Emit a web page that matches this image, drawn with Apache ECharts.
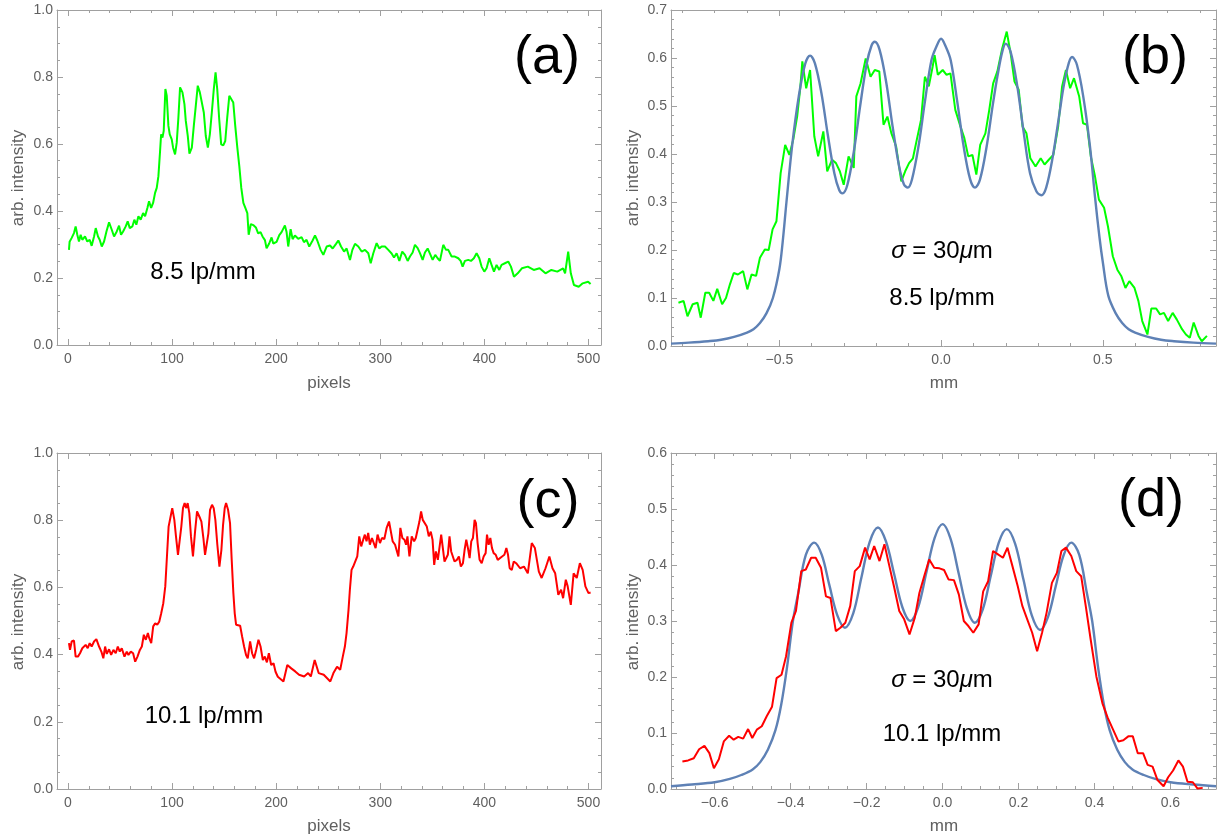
<!DOCTYPE html>
<html>
<head>
<meta charset="utf-8">
<script src="https://cdn.jsdelivr.net/npm/echarts@6/dist/echarts.min.js"></script>
<style>
html,body{margin:0;padding:0;background:#fff;}
#chart{width:1224px;height:838px;}
</style>
</head>
<body>
<div id="chart"></div>
<script>
// ---------------- DATA ----------------
// (a) 8.5 lp/mm raw profile
const aPixel = [1,1.6,3.5,5.8,7.4,9,10.6,12.2,13.8,16.4,18.6,20.9,22.8,25.1,26.7,28.9,30.5,32.5,34.7,37,39.5,42.1,44.3,46.9,49.1,51,53,55.5,57.4,59.4,61.9,63.8,65.7,67.7,69.9,72.2,74.1,76.3,77.9,79.9,81.8,83.7,85.3,86.9,88.5,89.5,90.8,92,93.6,94.9,96.5,97.8,99.7,101,102.9,104.5,106.1,107.7,110,111.9,113.2,115.1,116.7,119,120.9,122.8,124.7,126.7,128.6,130.5,132.4,134.4,136.3,138.2,140.1,141.8,143.4,145.3,147.2,149.2,151.1,153,155,156.9,158.8,160.7,162.7,164.6,166.5,168.5,170.4,172.3,173.6,174.1,175.7,178,180.5,182.7,185,186.9,189.2,190.8,193.3,195.6,197.2,200.4,203,205.2,208.4,210,211.6,213.9,215.8,218,221.2,224.4,226.7,229.2,231.8,235,237.3,239.5,242.7,245.3,248.5,251.7,254.3,257.5,259.7,262.3,265.2,267.7,270.9,273.2,275.7,278.9,282.1,285.3,288.5,290.8,293.3,296.5,299.1,301.3,304.5,307.7,310.9,313.2,315.7,318.3,321.1,323.7,326.3,328.5,331.1,333.3,335.9,338.1,340.7,342.9,345.5,347.7,350.3,352.8,355.1,357.3,360.5,363.1,365.3,368.5,371.7,374.9,377.2,379.1,381.3,384.5,387.1,389.9,392.5,395.1,397.3,399.9,402.1,404.7,406.9,409.2,411.7,414.3,416.5,419.7,422.9,425.5,428.4,432,436,441.7,447.4,453,458.7,464.3,470,475.6,477.5,480.5,483,486,490.6,494.4,499.6,502];
const aIntensity = [0.284,0.308,0.319,0.334,0.354,0.329,0.309,0.329,0.314,0.324,0.309,0.314,0.296,0.324,0.349,0.324,0.314,0.294,0.309,0.339,0.366,0.344,0.324,0.339,0.356,0.329,0.339,0.354,0.369,0.349,0.354,0.374,0.359,0.384,0.374,0.394,0.384,0.409,0.429,0.409,0.424,0.454,0.469,0.504,0.579,0.629,0.619,0.639,0.764,0.744,0.654,0.629,0.614,0.589,0.569,0.604,0.679,0.769,0.754,0.719,0.669,0.624,0.571,0.589,0.654,0.714,0.774,0.754,0.749,0.694,0.624,0.589,0.629,0.694,0.764,0.814,0.764,0.674,0.599,0.596,0.609,0.679,0.744,0.749,0.724,0.654,0.589,0.534,0.469,0.424,0.409,0.394,0.329,0.333,0.361,0.358,0.351,0.333,0.337,0.324,0.313,0.289,0.303,0.321,0.303,0.308,0.328,0.337,0.357,0.337,0.294,0.346,0.316,0.327,0.317,0.322,0.307,0.314,0.294,0.312,0.327,0.312,0.284,0.269,0.294,0.297,0.288,0.302,0.312,0.294,0.279,0.288,0.254,0.284,0.302,0.294,0.279,0.284,0.274,0.244,0.274,0.304,0.288,0.294,0.294,0.284,0.273,0.261,0.274,0.251,0.279,0.269,0.251,0.264,0.276,0.299,0.289,0.274,0.254,0.276,0.288,0.273,0.254,0.269,0.259,0.251,0.299,0.284,0.284,0.264,0.264,0.259,0.251,0.234,0.251,0.254,0.251,0.259,0.274,0.259,0.234,0.219,0.229,0.259,0.239,0.219,0.239,0.224,0.239,0.244,0.249,0.234,0.204,0.214,0.229,0.234,0.224,0.229,0.214,0.224,0.219,0.229,0.214,0.279,0.214,0.179,0.174,0.184,0.189,0.182];

// (c) 10.1 lp/mm raw profile
const cPixel = [1,2,3.6,5.8,7.4,9.6,11.6,13.8,15.7,17,19,20.9,22.8,25.1,27.3,29.9,32.1,34,35.7,37.3,39.5,41.5,43.7,45.9,47.9,49.8,51.7,54.3,56.5,58.1,60.4,62.6,64.6,66.8,69.1,71,72.9,74.8,76.8,78.1,80,81.9,83.8,85.8,87.7,89.6,91.6,93.5,95.1,96.7,98.3,100.2,102.2,103.8,105.7,107.3,108.9,110.5,112.1,113.7,115,116.6,118.2,120.1,122.1,124,126.2,128.2,130.1,131.7,133.3,134.9,136.5,138.4,140,141.6,143.5,145.5,147.4,149,150.6,151.9,153.8,155.7,157.3,158.9,160.2,161.5,163.4,165.4,167.3,169.2,171.1,172.7,175,176.9,178.8,180.8,183,185,187.2,189.1,191.1,193,195.2,197.5,199.4,201.6,207,210.7,214.5,218.3,222,226.9,230.7,233.3,237,240.8,245.7,252,255,258.5,261.5,264,266,267.6,269.5,270.8,272.4,274,275.9,277.9,279.8,281.7,283.6,285.2,286.8,288.4,290,292,293.9,295.5,297.4,299.7,301.6,303.9,306.1,308.4,310,311.9,314.2,315.8,317.4,319.3,321.2,323.2,324.8,326.1,328,330.2,332.5,334.1,335.7,337.6,339.2,340.8,342.4,344.7,346.6,348.5,350.2,351.8,353.4,355.3,356.9,358.5,360.1,361.7,363.3,364.9,366.5,368.1,369.7,371.3,373.6,375.5,377.4,379.4,381,382.6,384.2,385.8,387.4,389,390.6,391.9,393.5,395.4,397.4,399.3,401.2,402.5,404.1,405.7,407.3,408.9,410.9,412.8,414.7,417,419.2,421.1,422.7,424.3,426.3,428.2,430.5,434.3,438,441.7,445.5,448.5,452.3,455,458.7,462.4,465.4,468,471,473.7,475.6,478.2,480,483,485.7,488.7,491.7,494.4,497,500,502];
const cIntensity = [0.434,0.414,0.439,0.442,0.394,0.394,0.404,0.419,0.414,0.429,0.419,0.434,0.424,0.439,0.446,0.424,0.409,0.389,0.424,0.402,0.416,0.399,0.414,0.404,0.424,0.409,0.419,0.394,0.409,0.399,0.409,0.404,0.379,0.394,0.414,0.424,0.459,0.444,0.464,0.449,0.434,0.484,0.493,0.489,0.498,0.523,0.553,0.603,0.692,0.781,0.806,0.836,0.801,0.751,0.697,0.702,0.781,0.836,0.851,0.836,0.851,0.821,0.751,0.692,0.766,0.826,0.811,0.796,0.747,0.697,0.692,0.761,0.831,0.846,0.836,0.801,0.727,0.662,0.712,0.786,0.836,0.851,0.831,0.791,0.682,0.583,0.523,0.489,0.484,0.486,0.454,0.424,0.399,0.389,0.439,0.404,0.389,0.414,0.444,0.424,0.384,0.394,0.377,0.404,0.369,0.374,0.349,0.334,0.320,0.369,0.359,0.350,0.340,0.335,0.345,0.335,0.384,0.345,0.340,0.320,0.345,0.364,0.355,0.394,0.424,0.464,0.533,0.593,0.652,0.662,0.660,0.692,0.752,0.722,0.742,0.757,0.737,0.762,0.727,0.747,0.742,0.717,0.757,0.732,0.747,0.744,0.777,0.796,0.791,0.737,0.727,0.722,0.692,0.777,0.747,0.742,0.727,0.752,0.692,0.752,0.737,0.747,0.742,0.796,0.826,0.801,0.806,0.781,0.752,0.766,0.742,0.667,0.707,0.682,0.677,0.757,0.717,0.677,0.672,0.697,0.752,0.707,0.702,0.677,0.682,0.692,0.662,0.672,0.712,0.742,0.717,0.687,0.737,0.747,0.801,0.791,0.732,0.682,0.672,0.692,0.702,0.757,0.727,0.747,0.717,0.702,0.697,0.682,0.687,0.692,0.697,0.717,0.697,0.657,0.652,0.677,0.672,0.657,0.662,0.642,0.732,0.717,0.647,0.628,0.657,0.692,0.657,0.642,0.578,0.593,0.568,0.623,0.603,0.548,0.642,0.628,0.672,0.652,0.603,0.583,0.585];

// (b) 8.5 lp/mm measured profile (mm)
const bPos = [-0.812,-0.796,-0.784,-0.768,-0.753,-0.743,-0.729,-0.717,-0.704,-0.692,-0.677,-0.665,-0.653,-0.641,-0.628,-0.612,-0.599,-0.586,-0.572,-0.560,-0.545,-0.533,-0.521,-0.509,-0.496,-0.482,-0.469,-0.457,-0.445,-0.435,-0.429,-0.417,-0.405,-0.392,-0.380,-0.364,-0.352,-0.337,-0.325,-0.313,-0.301,-0.286,-0.270,-0.262,-0.249,-0.233,-0.218,-0.205,-0.191,-0.178,-0.166,-0.154,-0.139,-0.123,-0.111,-0.099,-0.087,-0.075,-0.062,-0.050,-0.038,-0.026,-0.020,-0.010,0.005,0.017,0.029,0.044,0.060,0.072,0.084,0.097,0.109,0.121,0.137,0.149,0.161,0.174,0.188,0.203,0.215,0.227,0.240,0.252,0.264,0.276,0.292,0.308,0.320,0.333,0.347,0.362,0.374,0.386,0.399,0.411,0.427,0.439,0.451,0.463,0.476,0.488,0.504,0.516,0.531,0.545,0.557,0.570,0.582,0.598,0.610,0.622,0.638,0.650,0.665,0.677,0.689,0.702,0.716,0.729,0.745,0.757,0.769,0.781,0.796,0.806,0.822];
const bMeasured = [0.090,0.094,0.062,0.087,0.090,0.059,0.111,0.111,0.094,0.119,0.087,0.100,0.128,0.152,0.149,0.156,0.118,0.149,0.146,0.184,0.201,0.200,0.243,0.260,0.360,0.419,0.398,0.430,0.478,0.540,0.593,0.537,0.575,0.437,0.395,0.447,0.364,0.388,0.381,0.364,0.336,0.395,0.371,0.520,0.547,0.599,0.561,0.575,0.572,0.461,0.478,0.444,0.416,0.343,0.364,0.381,0.391,0.430,0.471,0.561,0.541,0.582,0.606,0.565,0.575,0.565,0.568,0.492,0.457,0.433,0.395,0.398,0.357,0.419,0.443,0.492,0.547,0.572,0.617,0.655,0.610,0.551,0.534,0.457,0.443,0.391,0.374,0.391,0.378,0.388,0.398,0.457,0.540,0.575,0.537,0.558,0.520,0.464,0.461,0.395,0.353,0.305,0.288,0.249,0.187,0.159,0.146,0.121,0.135,0.121,0.094,0.052,0.024,0.078,0.078,0.066,0.069,0.052,0.069,0.055,0.035,0.024,0.017,0.049,0.021,0.010,0.021];
// (b) fitted model, sigma = 30 um
const bFitPos = [-0.835,-0.78,-0.72,-0.68,-0.64,-0.60,-0.58,-0.56,-0.54,-0.52,-0.50,-0.49,-0.478,-0.46,-0.44,-0.42,-0.405,-0.39,-0.37,-0.35,-0.33,-0.315,-0.305,-0.29,-0.27,-0.25,-0.23,-0.215,-0.205,-0.19,-0.17,-0.15,-0.13,-0.115,-0.103,-0.09,-0.07,-0.05,-0.03,-0.015,0,0.015,0.03,0.05,0.07,0.09,0.105,0.12,0.14,0.16,0.175,0.19,0.20,0.215,0.235,0.255,0.275,0.295,0.31,0.325,0.345,0.365,0.38,0.395,0.405,0.42,0.44,0.46,0.476,0.49,0.50,0.517,0.54,0.56,0.58,0.60,0.64,0.68,0.72,0.78,0.85];
const bFit = [0.005,0.007,0.010,0.013,0.019,0.028,0.035,0.048,0.068,0.100,0.160,0.215,0.300,0.420,0.520,0.588,0.605,0.589,0.527,0.439,0.360,0.325,0.318,0.335,0.404,0.501,0.588,0.626,0.634,0.617,0.551,0.458,0.375,0.337,0.330,0.347,0.415,0.509,0.595,0.623,0.640,0.623,0.595,0.509,0.415,0.347,0.330,0.346,0.412,0.503,0.565,0.615,0.630,0.613,0.544,0.447,0.360,0.322,0.314,0.330,0.393,0.480,0.545,0.590,0.602,0.586,0.518,0.418,0.310,0.225,0.175,0.105,0.068,0.048,0.035,0.028,0.019,0.013,0.010,0.007,0.005];

// (d) 10.1 lp/mm measured profile (mm)
const dPos = [-0.685,-0.670,-0.655,-0.641,-0.627,-0.614,-0.602,-0.589,-0.576,-0.562,-0.550,-0.538,-0.525,-0.512,-0.501,-0.489,-0.476,-0.463,-0.449,-0.437,-0.424,-0.412,-0.398,-0.386,-0.372,-0.360,-0.346,-0.334,-0.320,-0.307,-0.295,-0.281,-0.269,-0.256,-0.243,-0.231,-0.218,-0.204,-0.192,-0.180,-0.166,-0.153,-0.140,-0.128,-0.114,-0.101,-0.087,-0.073,-0.061,-0.047,-0.035,-0.022,-0.008,0.004,0.016,0.030,0.043,0.056,0.068,0.081,0.095,0.107,0.120,0.133,0.146,0.159,0.171,0.184,0.198,0.210,0.223,0.236,0.249,0.262,0.274,0.288,0.301,0.313,0.325,0.339,0.352,0.365,0.377,0.390,0.405,0.421,0.435,0.449,0.463,0.476,0.489,0.501,0.514,0.528,0.540,0.553,0.566,0.582,0.594,0.607,0.621,0.633,0.645,0.659,0.671,0.685];
const dMeasured = [0.049,0.051,0.055,0.071,0.077,0.064,0.037,0.053,0.085,0.095,0.088,0.093,0.090,0.107,0.091,0.106,0.112,0.130,0.147,0.198,0.204,0.237,0.297,0.318,0.389,0.392,0.413,0.413,0.395,0.344,0.341,0.282,0.288,0.297,0.327,0.389,0.398,0.431,0.410,0.434,0.407,0.437,0.398,0.362,0.318,0.303,0.276,0.306,0.350,0.383,0.410,0.395,0.394,0.391,0.374,0.373,0.347,0.300,0.291,0.279,0.294,0.353,0.371,0.425,0.419,0.413,0.431,0.398,0.362,0.327,0.303,0.279,0.246,0.279,0.315,0.368,0.386,0.425,0.431,0.416,0.389,0.380,0.327,0.267,0.201,0.153,0.127,0.106,0.085,0.087,0.094,0.094,0.064,0.064,0.043,0.040,0.016,0.005,0.021,0.033,0.051,0.040,0.013,0.012,0.001,0.002];
// (d) fitted model, sigma = 30 um
const dFitPos = [-0.715,-0.66,-0.60,-0.56,-0.53,-0.50,-0.48,-0.46,-0.44,-0.425,-0.41,-0.394,-0.38,-0.36,-0.338,-0.318,-0.298,-0.277,-0.257,-0.235,-0.2135,-0.192,-0.170,-0.149,-0.1275,-0.106,-0.085,-0.064,-0.0425,-0.021,0,0.021,0.0425,0.064,0.085,0.106,0.127,0.148,0.169,0.191,0.213,0.235,0.257,0.2775,0.298,0.3185,0.339,0.36,0.38,0.394,0.41,0.425,0.44,0.46,0.48,0.50,0.53,0.56,0.60,0.66,0.72];
const dFit = [0.005,0.008,0.012,0.018,0.025,0.035,0.048,0.070,0.105,0.150,0.215,0.300,0.350,0.418,0.440,0.418,0.364,0.310,0.288,0.314,0.378,0.441,0.467,0.442,0.384,0.325,0.300,0.325,0.387,0.448,0.473,0.447,0.385,0.323,0.297,0.321,0.381,0.440,0.464,0.438,0.374,0.310,0.284,0.307,0.362,0.417,0.440,0.418,0.350,0.300,0.215,0.150,0.105,0.070,0.048,0.035,0.025,0.018,0.012,0.008,0.005];

// Tick labels
const pixelTicks = [0, 100, 200, 300, 400, 500];
const unitTicks = [0, 0.2, 0.4, 0.6, 0.8, 1.0];
const bMmTicks = [-0.5, 0, 0.5];
const bIntTicks = [0, 0.1, 0.2, 0.3, 0.4, 0.5, 0.6, 0.7];
const dMmTicks = [-0.6, -0.4, -0.2, 0, 0.2, 0.4, 0.6];
const dIntTicks = [0, 0.1, 0.2, 0.3, 0.4, 0.5, 0.6];

// ---------------- CHART ----------------
const FRAME = '#a0a0a0';
const LABEL = '#606060';
const FONT = '"Liberation Sans", Arial, Helvetica, sans-serif';

function minorTicks(min, max, step) {
  const out = [];
  const start = Math.ceil(min / step - 1e-9);
  for (let k = start; k * step <= max + 1e-9; k++) out.push(+(k * step).toFixed(6));
  return out;
}
const fmt1 = v => (Math.abs(v) < 1e-9 ? '0.0' : v.toFixed(1).replace('-', '\u2212'));
const fmt0 = v => String(Math.round(v));

function axisSet(kind, grid, min, max, majors, minorStep, fmt, margin) {
  const common = {type: 'value', gridIndex: grid, min: min, max: max, splitLine: {show: false}, axisPointer: {show: false}};
  const pos = kind === 'x' ? ['bottom', 'top'] : ['left', 'right'];
  const minors = minorTicks(min, max, minorStep);
  const list = [];
  pos.forEach((p, i) => {
    list.push(Object.assign({}, common, {
      position: p,
      axisLine: {show: true, onZero: false, lineStyle: {color: FRAME, width: 1}},
      axisTick: {show: true, inside: true, length: 6, customValues: majors, lineStyle: {color: FRAME, width: 1}},
      axisLabel: i === 0 ? {show: true, customValues: majors, formatter: fmt, margin: margin, color: LABEL, fontSize: 14, fontFamily: FONT} : {show: false}
    }));
    list.push(Object.assign({}, common, {
      position: p,
      axisLine: {show: false, onZero: false},
      axisTick: {show: true, inside: true, length: 3, customValues: minors, lineStyle: {color: FRAME, width: 1}},
      axisLabel: {show: false}
    }));
  });
  return list;
}

const zip = (xs, ys) => xs.map((x, i) => [x, ys[i]]);

const grids = [
  {left: 57, top: 10, width: 544, height: 335},
  {left: 671, top: 10, width: 545, height: 336},
  {left: 57, top: 453, width: 544, height: 336},
  {left: 671, top: 453, width: 545, height: 336}
];

const xAxes = [].concat(
  axisSet('x', 0, -10.5, 512, pixelTicks, 20, fmt0, 7),
  axisSet('x', 1, -0.835, 0.85, bMmTicks, 0.1, fmt1, 7),
  axisSet('x', 2, -10.5, 512, pixelTicks, 20, fmt0, 7),
  axisSet('x', 3, -0.715, 0.72, dMmTicks, 0.05, fmt1, 7)
);
const yAxes = [].concat(
  axisSet('y', 0, 0, 1.0, unitTicks, 0.05, fmt1, 4),
  axisSet('y', 1, 0, 0.7, bIntTicks, 0.02, fmt1, 4),
  axisSet('y', 2, 0, 1.0, unitTicks, 0.05, fmt1, 4),
  axisSet('y', 3, 0, 0.6, dIntTicks, 0.02, fmt1, 4)
);

function lineSeries(g, data, color, width, smooth) {
  return {
    type: 'line', xAxisIndex: g * 4, yAxisIndex: g * 4, data: data,
    showSymbol: false, symbol: 'none', smooth: smooth || false,
    lineStyle: {color: color, width: width}, clip: true, silent: true
  };
}

const GREEN = '#00ff00', RED = '#ff0000', BLUE = '#5e81b5';

const series = [
  lineSeries(0, zip(aPixel, aIntensity), GREEN, 2),
  lineSeries(1, zip(bPos, bMeasured), GREEN, 2),
  lineSeries(1, zip(bFitPos, bFit), BLUE, 2.4, 0.35),
  lineSeries(2, zip(cPixel, cIntensity), RED, 2),
  lineSeries(3, zip(dFitPos, dFit), BLUE, 2.4, 0.35),
  lineSeries(3, zip(dPos, dMeasured), RED, 2)
];

function txt(x, y, text, size, color, rot, rich) {
  const el = {type: 'text', x: x, y: y, rotation: rot || 0, silent: true,
    style: {text: text, fill: color, fontSize: size, fontFamily: FONT, textAlign: 'center', textVerticalAlign: 'middle'}};
  if (rich) el.style.rich = rich;
  return el;
}
const sigmaRich = {i: {fontStyle: 'italic', fontSize: 24, fontFamily: FONT, fill: '#000'}};
const sigmaText = '{i|\u03c3} = 30{i|\u03bc}m';

const graphics = [
  txt(547, 58, '(a)', 54, '#000'),
  txt(1155, 58, '(b)', 54, '#000'),
  txt(548, 502, '(c)', 54, '#000'),
  txt(1151, 501, '(d)', 54, '#000'),
  txt(203, 272, '8.5 lp/mm', 24, '#000'),
  txt(204, 716, '10.1 lp/mm', 24, '#000'),
  txt(942, 251, sigmaText, 24, '#000', 0, sigmaRich),
  txt(942, 298, '8.5 lp/mm', 24, '#000'),
  txt(942, 680, sigmaText, 24, '#000', 0, sigmaRich),
  txt(942, 734, '10.1 lp/mm', 24, '#000'),
  txt(18, 178, 'arb. intensity', 17, LABEL, Math.PI / 2),
  txt(633, 178, 'arb. intensity', 17, LABEL, Math.PI / 2),
  txt(18, 622, 'arb. intensity', 17, LABEL, Math.PI / 2),
  txt(633, 622, 'arb. intensity', 17, LABEL, Math.PI / 2),
  txt(329, 383, 'pixels', 17, LABEL),
  txt(329, 826, 'pixels', 17, LABEL),
  txt(944, 383, 'mm', 17, LABEL),
  txt(944, 826, 'mm', 17, LABEL)
];

const chart = echarts.init(document.getElementById('chart'), null, {renderer: 'canvas'});
chart.setOption({
  animation: false,
  backgroundColor: '#ffffff',
  grid: grids,
  xAxis: xAxes,
  yAxis: yAxes,
  series: series,
  graphic: graphics
});
</script>
</body>
</html>
